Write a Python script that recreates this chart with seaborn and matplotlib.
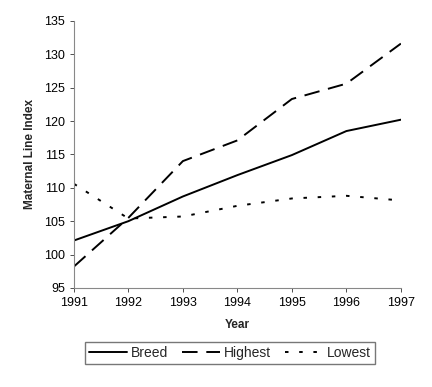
import numpy as np
import pandas as pd
import matplotlib.pyplot as plt
import seaborn as sns

years = [1991, 1992, 1993, 1994, 1995, 1996, 1997]
breed = [102.1, 105.0, 108.7, 111.9, 114.9, 118.5, 120.2]
highest = [98.2, 105.5, 114.0, 117.1, 123.3, 125.6, 131.6]
lowest = [110.6, 105.4, 105.7, 107.3, 108.4, 108.8, 108.1]

df = pd.DataFrame({"Year": years * 3,
                   "Index": breed + highest + lowest,
                   "Line": ["Breed"] * 7 + ["Highest"] * 7 + ["Lowest"] * 7})

sns.set_style("ticks")
plt.rcParams['font.family'] = ['Liberation Sans', 'DejaVu Sans']

fig = plt.figure(figsize=(4.32, 3.87), dpi=100)
ax = fig.add_axes([0.171, 0.256, 0.757, 0.69])

dash_map = {"Breed": "", "Highest": (8, 4.5), "Lowest": (1.8, 5.5)}
sns.lineplot(data=df, x="Year", y="Index", hue="Line", style="Line",
             palette=["black"] * 3, dashes=dash_map, linewidth=1.4, ax=ax)

ax.set_xlim(1991, 1997)
ax.set_ylim(95, 135)
ax.set_xticks(years)
ax.set_yticks(range(95, 136, 5))
ax.tick_params(labelsize=9, length=3, width=0.6, colors="#333333", labelcolor="black")
for s in ["left", "bottom"]:
    ax.spines[s].set_color("#888888")
    ax.spines[s].set_linewidth(0.8)
sns.despine(ax=ax)
ax.set_xlabel("Year", fontsize=8.5, fontweight="bold", labelpad=7)
ax.set_ylabel("Maternal Line Index", fontsize=8.5, fontweight="bold", labelpad=6)

ax.legend(loc="upper center", bbox_to_anchor=(0.477, -0.175), ncol=3, frameon=True,
          fancybox=False, edgecolor="#555555", fontsize=10, handlelength=2.7,
          columnspacing=1.0, handletextpad=0.3, borderpad=0.3)

fig.savefig("out.png", dpi=100)
